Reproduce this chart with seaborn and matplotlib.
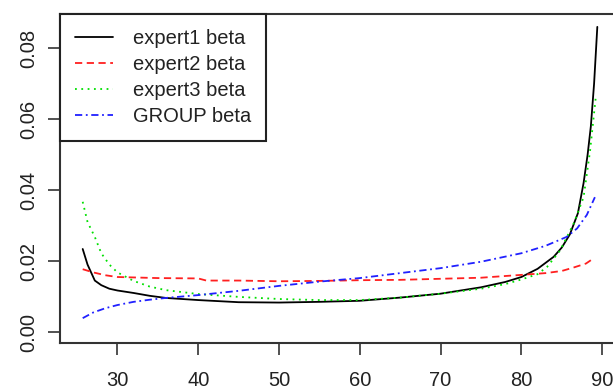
import matplotlib
matplotlib.use("Agg")
import matplotlib.pyplot as plt
import seaborn as sns

# values
expert1_x = [25.7, 26.3, 27.2, 28, 29, 30, 32, 34, 36, 40, 45, 50, 55, 60, 65, 70, 75, 78,
             80, 82, 84, 85, 86, 87, 87.7, 88.2, 88.6, 89.0, 89.4]
expert1_y = [0.0234, 0.019, 0.0145, 0.0132, 0.0122, 0.0117, 0.011, 0.0102, 0.0096, 0.009,
             0.0084, 0.0083, 0.0085, 0.0088, 0.0097, 0.0108, 0.0126, 0.0141, 0.0155, 0.0178,
             0.0212, 0.0238, 0.0275, 0.0335, 0.042, 0.05, 0.058, 0.07, 0.086]

expert2_x = [25.7, 27, 28.5, 30, 35, 40, 41, 45, 50, 55, 60, 65, 70, 75, 80, 83, 85, 86.5,
             88, 88.9]
expert2_y = [0.0177, 0.0168, 0.016, 0.0155, 0.0152, 0.0151, 0.0145, 0.0145, 0.0143, 0.0144,
             0.0146, 0.0147, 0.015, 0.0153, 0.0161, 0.0166, 0.0172, 0.0182, 0.0193, 0.0207]

expert3_x = [25.7, 26.3, 27.2, 28, 29, 30, 32, 34, 36, 40, 45, 50, 55, 60, 65, 70, 75, 78,
             80, 82, 83.2, 84.8, 86.5, 87.7, 88.5, 89.2]
expert3_y = [0.0367, 0.031, 0.0268, 0.0222, 0.019, 0.0168, 0.0144, 0.0128, 0.0118, 0.0107,
             0.0099, 0.0093, 0.009, 0.009, 0.0097, 0.0108, 0.0122, 0.0135, 0.0148, 0.0163,
             0.0184, 0.023, 0.0307, 0.038, 0.051, 0.066]

group_x = [25.7, 27, 28.5, 30, 32, 34, 36, 38, 40, 45, 50, 55, 60, 65, 70, 75, 80, 83,
           85.6, 86.9, 88.1, 89.1]
group_y = [0.0039, 0.0055, 0.0067, 0.0076, 0.0085, 0.0091, 0.0096, 0.0100, 0.0104, 0.0116,
           0.0130, 0.0142, 0.0152, 0.0166, 0.018, 0.0198, 0.0222, 0.0243, 0.0268, 0.0292,
           0.033, 0.038]

labels = ["expert1 beta", "expert2 beta", "expert3 beta", "GROUP beta"]
x_ticks = [30, 40, 50, 60, 70, 80, 90]
y_ticks = [0.00, 0.02, 0.04, 0.06, 0.08]

sns.set_style("white")
plt.rcParams["font.family"] = ["Liberation Sans", "DejaVu Sans"]

fig = plt.figure(figsize=(6.13, 3.92), dpi=100)
ax = fig.add_axes([0.098, 0.125, 0.912, 0.839])

series = [
    (expert1_x, expert1_y, "black", "-"),
    (expert2_x, expert2_y, "#ff2020", (0, (4, 2.5))),
    (expert3_x, expert3_y, "#00e000", (0, (1, 2.5))),
    (group_x, group_y, "#2020ff", (0, (4, 2, 1, 2))),
]
for (xs, ys, col, ls), lab in zip(series, labels):
    sns.lineplot(x=xs, y=ys, ax=ax, color=col, linestyle=ls, linewidth=1.3,
                 label=lab, estimator=None, sort=False)

ax.set_xlim(22.9, 92.1)
ax.set_ylim(-0.0031, 0.0896)
ax.set_xticks(x_ticks)
ax.set_xticklabels([str(t) for t in x_ticks])
ax.set_yticks(y_ticks)
ax.set_yticklabels([f"{t:.2f}" for t in y_ticks], rotation=90, va="center")
ax.tick_params(axis="both", direction="out", length=8.5, width=1.2, color="#333333",
               labelsize=14.5, labelcolor="#222222", bottom=True, left=True)
ax.tick_params(axis="y", pad=7)
ax.tick_params(axis="x", pad=12)
ax.set_xlabel("")
ax.set_ylabel("")
for s in ax.spines.values():
    s.set_color("#333333")
    s.set_linewidth(1.5)

leg = ax.legend(loc="upper left", bbox_to_anchor=(0, 1), borderaxespad=0,
                fontsize=14.5, frameon=True, fancybox=False, framealpha=1,
                edgecolor="#222222", handlelength=1.9, handletextpad=0.95,
                labelspacing=0.35, borderpad=0.75)
leg.get_frame().set_linewidth(1.5)
for t in leg.get_texts():
    t.set_color("#222222")

fig.savefig("out.png", dpi=100)
